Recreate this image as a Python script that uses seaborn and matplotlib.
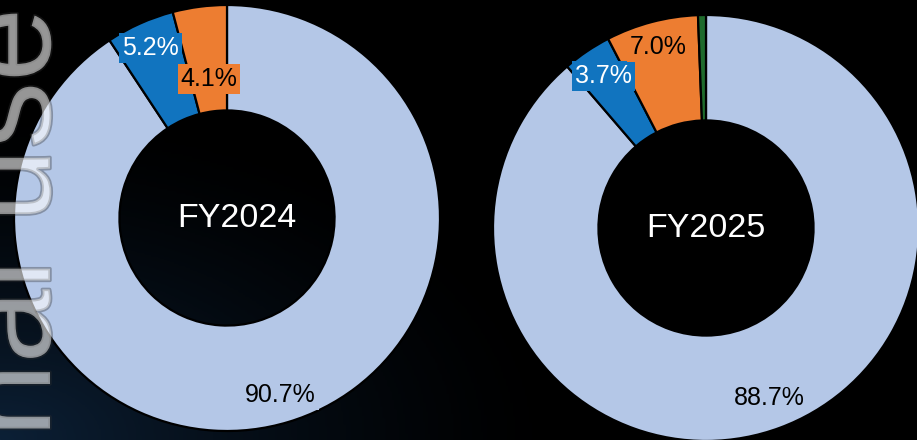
import numpy as np
import matplotlib
matplotlib.use('Agg')
import matplotlib.pyplot as plt
import matplotlib.patheffects as pe
import seaborn as sns

years = ['FY2024', 'FY2025']
shares_2024 = [90.7, 5.2, 4.1]
shares_2025 = [88.7, 3.7, 7.0, 0.6]
label_2024 = ['90.7%', '5.2%', '4.1%']
label_2025 = ['88.7%', '3.7%', '7.0%', '']

slice_colors = sns.color_palette(['#b4c7e7', '#1174bf', '#ed7d31', '#1f6b2c'])
text_colors = ['black', 'white', 'black', 'black']

sns.set_theme(style='dark')
plt.rcParams['font.family'] = ['Liberation Sans', 'DejaVu Sans']

W, H = 917, 440
fig = plt.figure(figsize=(W / 100, H / 100), dpi=100)
fig.patch.set_facecolor('black')

# dark navy glow in the lower left corner
bg = fig.add_axes([0, 0, 1, 1], zorder=-5)
yy, xx = np.mgrid[0:1:200j, 0:1:400j]
glow = np.clip(1 - np.hypot(xx * 1.6, (1 - yy) * 1.3), 0, 1) ** 1.5
bg.imshow(glow, cmap=matplotlib.colors.LinearSegmentedColormap.from_list('g', ['#000000', '#0c2036']),
          extent=[0, 1, 0, 1], aspect='auto', origin='upper', vmin=0, vmax=1)
bg.axis('off')


def donut(cx, cy, r, values, labels, dists, title, title_dx=0.0):
    ax = fig.add_axes([(cx - r) / W, (cy - r) / H, 2 * r / W, 2 * r / H])
    wedges, _ = ax.pie(values, colors=slice_colors[:len(values)], startangle=90, counterclock=False,
                       radius=1, wedgeprops=dict(width=0.495, edgecolor='black', linewidth=1.6))
    ax.set_xlim(-1, 1)
    ax.set_ylim(-1, 1)
    ax.set_aspect('equal')
    ax.axis('off')
    for i, w in enumerate(wedges):
        if not labels[i]:
            continue
        ang = np.deg2rad((w.theta1 + w.theta2) / 2)
        ax.text(dists[i] * np.cos(ang), dists[i] * np.sin(ang), labels[i], ha='center', va='center',
                fontsize=18, color=text_colors[i],
                bbox=dict(boxstyle='square,pad=0.12', facecolor=slice_colors[i], edgecolor='none'))
    ax.text(title_dx, 0, title, ha='center', va='center', fontsize=24.5, color='white')


donut(227, 222, 213, shares_2024, label_2024, [0.87, 0.875, 0.66], years[0], title_dx=0.045)
donut(706, 212, 213, shares_2025, label_2025, [0.85, 0.86, 0.88, 0], years[1])

fig.text(50 / W, 432 / H, 'Internal use', rotation=90, rotation_mode='anchor', ha='right', va='baseline',
         fontsize=96, color='white', alpha=0.36, zorder=10,
         path_effects=[pe.withStroke(linewidth=2.5, foreground='#303030')])

fig.savefig('out.png', dpi=100, facecolor=fig.get_facecolor())
